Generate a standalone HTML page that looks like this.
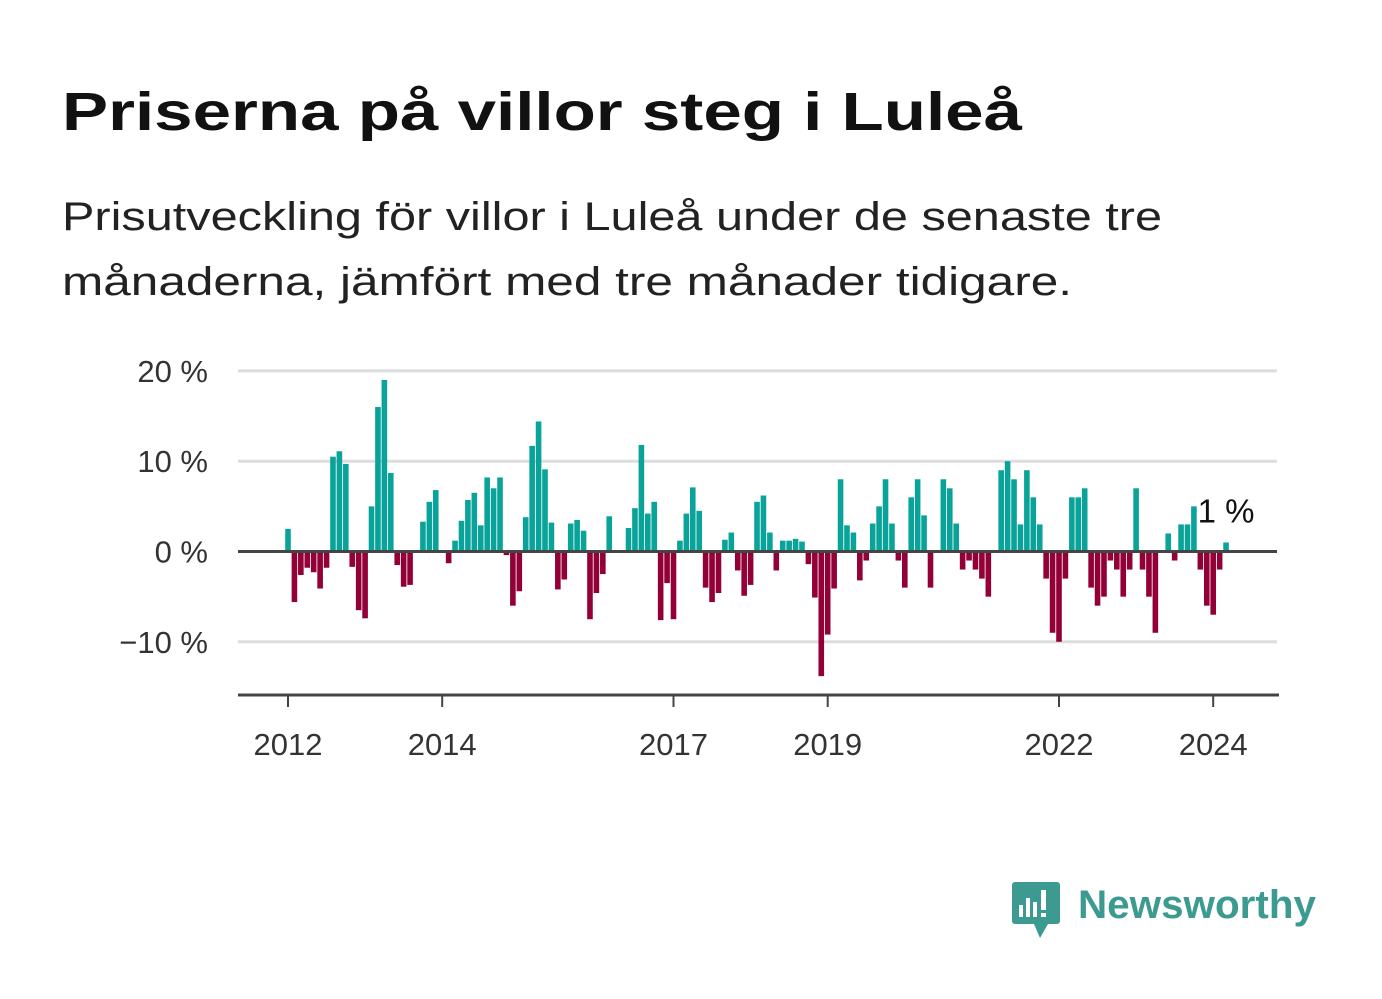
<!DOCTYPE html>
<html><head><meta charset="utf-8"><style>
html,body{margin:0;padding:0;background:#fff;}
svg{display:block;font-family:"Liberation Sans",sans-serif;}
</style></head><body>
<svg id="c" width="1382" height="999" viewBox="0 0 1382 999">
<text x="62" y="130" font-size="54" font-weight="bold" fill="#111" textLength="960" lengthAdjust="spacingAndGlyphs">Priserna på villor steg i Luleå</text>
<text x="62" y="230" font-size="40" fill="#222" textLength="1100" lengthAdjust="spacingAndGlyphs">Prisutveckling för villor i Luleå under de senaste tre</text>
<text x="62" y="295" font-size="40" fill="#222" textLength="1010" lengthAdjust="spacingAndGlyphs">månaderna, jämfört med tre månader tidigare.</text>
<g id="grid"></g><g id="bars"></g><g id="axes"></g>
<g>
<rect x="1012" y="882" width="48" height="42" rx="3" fill="#3d9a91"/>
<polygon points="1034,924 1048,924 1040,938" fill="#3d9a91"/>
<rect x="1019" y="905" width="4" height="12" fill="#fff"/><rect x="1026" y="898" width="4" height="19" fill="#fff"/><rect x="1033" y="902" width="4" height="15" fill="#fff"/><rect x="1041" y="890" width="5" height="20" fill="#fff"/><rect x="1041" y="913" width="5" height="4" fill="#fff"/>
<text x="1078" y="918" font-size="40" font-weight="bold" fill="#3d9a91" textLength="238" lengthAdjust="spacingAndGlyphs">Newsworthy</text>
</g>
</svg>
<script>
const values=[2.5,-5.6,-2.6,-1.8,-2.3,-4.1,-1.8,10.5,11.1,9.7,-1.7,-6.5,-7.4,5.0,16.0,19.0,8.7,-1.5,-3.9,-3.7,0,3.3,5.5,6.8,0,-1.3,1.2,3.4,5.7,6.5,2.9,8.2,7.0,8.2,-0.4,-6.0,-4.4,3.8,11.7,14.4,9.1,3.2,-4.2,-3.1,3.1,3.5,2.3,-7.5,-4.6,-2.5,3.9,0,0,2.6,4.8,11.8,4.2,5.5,-7.6,-3.5,-7.5,1.2,4.2,7.1,4.5,-4.0,-5.6,-4.6,1.3,2.1,-2.1,-4.9,-3.7,5.5,6.2,2.1,-2.1,1.2,1.2,1.4,1.1,-1.4,-5.1,-13.8,-9.2,-4.1,8.0,2.9,2.1,-3.2,-1.0,3.1,5.0,8.0,3.1,-1.0,-4.0,6.0,8.0,4.0,-4.0,0,8.0,7.0,3.1,-2.0,-1.0,-2.0,-3.0,-5.0,0,9.0,10.0,8.0,3.0,9.0,6.0,3.0,-3.0,-9.0,-10.0,-3.0,6.0,6.0,7.0,-4.0,-6.0,-5.0,-1.0,-2.0,-5.0,-2.0,7.0,-2.0,-5.0,-9.0,0,2.0,-1.0,3.0,3.0,5.0,-2.0,-6.0,-7.0,-2.0,1.0];
const yTicks=[20,10,0,-10];
const yTickLabels=["20 %","10 %","0 %","−10 %"];
const xTickYears=[2012,2014,2017,2019,2022,2024];
const startYear=2012;
const lastLabel="1 %";
const NS="http://www.w3.org/2000/svg";
const x0=288, perMonth=77.1/12;
const X=m=>x0+m*perMonth;
const Y=v=>551.5-v*9.03;
function mk(t,a,p){const e=document.createElementNS(NS,t);for(const k in a)e.setAttribute(k,a[k]);p.appendChild(e);return e;}
const grid=document.getElementById('grid'),bars=document.getElementById('bars'),axes=document.getElementById('axes');
yTicks.forEach((t,i)=>{
 if(t!==0){const l=mk('line',{x1:238,x2:1277,y1:Y(t),y2:Y(t),stroke:'#ddd','stroke-width':3},grid);
 
 }
 const tx=mk('text',{x:208,y:Y(t)+11,'font-size':31,fill:'#333','text-anchor':'end'},axes);
 tx.textContent=yTickLabels[i];
 
 
});
values.forEach((v,i)=>{
 if(v===0)return;
 const r=mk('rect',{x:X(i)-2.8,y:Math.min(Y(v),Y(0)),width:5.6,height:Math.abs(Y(v)-Y(0)),fill:v>0?'#0aa39a':'#920037'},bars);
 
 
});
const z=mk('line',{x1:238,x2:1277,y1:Y(0),y2:Y(0),stroke:'#444','stroke-width':3},axes);


const ax=mk('line',{x1:238,x2:1279,y1:695,y2:695,stroke:'#444','stroke-width':3},axes);


xTickYears.forEach(yr=>{
 const x=X((yr-startYear)*12);
 const tk=mk('line',{x1:x,x2:x,y1:695,y2:707,stroke:'#444','stroke-width':2},axes);
 
 
 const t=mk('text',{x:x,y:755,'font-size':31,fill:'#333','text-anchor':'middle'},axes);
 t.textContent=yr;
 
 
});
const lab=mk('text',{x:X(values.length-1),y:Y(values[values.length-1])-20,'font-size':33,fill:'#111','text-anchor':'middle'},axes);
lab.textContent=lastLabel;


</script>
</body></html>
